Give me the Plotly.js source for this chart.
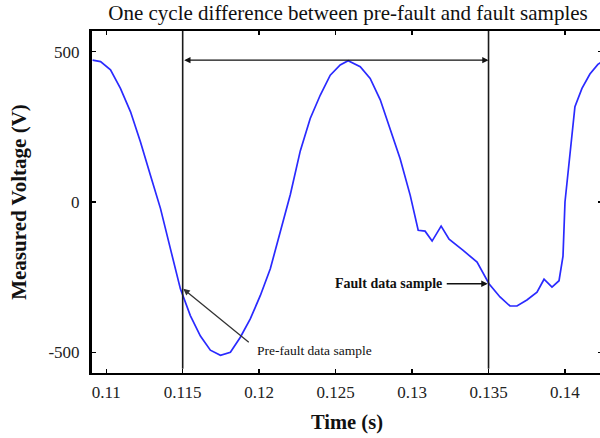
<!DOCTYPE html>
<html>
<head>
<meta charset="utf-8">
<script src="https://cdn.plot.ly/plotly-3.0.1.min.js"></script>
<style>
html,body{margin:0;padding:0;overflow:hidden;background:#fff;}
#chart{width:606px;height:438px;}
</style>
</head>
<body>
<div id="chart"></div>
<script>
// Time (s) and measured voltage (V)
const timeS = [0.10911,0.10963,0.11028,0.11093,0.11159,0.11224,0.11289,0.11355,0.11420,0.11485,
  0.11550,0.11616,0.11681,0.11747,0.11812,0.11877,0.11942,0.12008,0.12073,0.12138,
  0.12204,0.12269,0.12334,0.12400,0.12465,0.12530,0.12582,0.12661,0.12726,0.12792,
  0.12857,0.12922,0.12988,0.13040,0.13085,0.13131,0.13190,0.13242,0.13334,0.13425,
  0.13503,0.13575,0.13640,0.13686,0.13751,0.13817,0.13863,0.13915,0.13961,0.13987,
  0.14000,0.14032,0.14065,0.14111,0.14163,0.14215,0.14245];
const voltage = [472,467,440,378,300,200,89,-22,-156,-289,
  -378,-446,-493,-510,-500,-450,-389,-311,-222,-100,
  25,170,278,356,422,456,470,450,411,340,
  244,144,22,-94,-97,-130,-80,-124,-161,-200,
  -272,-316,-346,-346,-326,-300,-257,-283,-262,-180,
  0,167,317,378,426,458,468];

const xTickVals = [0.11,0.115,0.12,0.125,0.13,0.135,0.14];
const xTickText = ['0.11','0.115','0.12','0.125','0.13','0.135','0.14'];
const yTickVals = [-500,0,500];
const yTickText = ['-500','0','500'];

const preFaultT = 0.115, faultT = 0.135;
const preFaultV = -289, faultV = -272;
const cycleArrowV = 472;
const titleText = 'One cycle difference between pre-fault and fault samples';
const xTitle = 'Time (s)';
const yTitle = 'Measured Voltage (V)';
const preLabel = 'Pre-fault data sample';
const faultLabel = 'Fault data sample';

const serif = 'Liberation Serif, Times New Roman, serif';

const trace = {
  x: timeS, y: voltage, type: 'scatter', mode: 'lines',
  line: {color: '#2a2aff', width: 1.7}, hoverinfo: 'skip', showlegend: false
};

const layout = {
  width: 606, height: 438,
  margin: {l: 92, r: 4, t: 31, b: 65},
  paper_bgcolor: '#fff', plot_bgcolor: '#fff',
  font: {family: serif, color: '#111'},
  title: {text: titleText, font: {family: serif, size: 21, color: '#111'},
          x: 0.502, xref: 'paper', xanchor: 'center', y: 0.972, yref: 'container', yanchor: 'middle'},
  xaxis: {
    range: [0.10907, 0.14242], tickvals: xTickVals, ticktext: xTickText,
    showgrid: false, zeroline: false, showline: true, linecolor: '#000', linewidth: 1.6,
    mirror: 'ticks', ticks: 'inside', ticklen: 4, tickwidth: 1.3, tickcolor: '#000',
    tickfont: {family: serif, size: 17, color: '#222'}, ticklabelstandoff: 3,
    title: {text: '<b>' + xTitle + '</b>', font: {family: serif, size: 20.5, color: '#111'}, standoff: 13}
  },
  yaxis: {
    range: [-569, 569], tickvals: yTickVals, ticktext: yTickText,
    showgrid: false, zeroline: false, showline: true, linecolor: '#000', linewidth: 3,
    mirror: 'ticks', ticks: 'inside', ticklen: 4, tickwidth: 1.3, tickcolor: '#000',
    tickfont: {family: serif, size: 17, color: '#222'}, ticklabelstandoff: 6,
    title: {text: '<b>' + yTitle + '</b>', font: {family: serif, size: 21, color: '#111'}, standoff: 17}
  },
  shapes: [
    {type: 'line', xref: 'x', yref: 'y', x0: preFaultT, x1: preFaultT, y0: -555, y1: 569,
     line: {color: '#1a1a1a', width: 1.6}},
    {type: 'line', xref: 'x', yref: 'y', x0: faultT, x1: faultT, y0: -555, y1: 569,
     line: {color: '#1a1a1a', width: 1.6}}
  ],
  annotations: [
    {x: faultT, y: cycleArrowV, ax: preFaultT, ay: cycleArrowV, xref: 'x', yref: 'y', axref: 'x', ayref: 'y',
     text: '', showarrow: true, arrowhead: 2, arrowside: 'end+start', arrowsize: 0.9, arrowwidth: 1.4, arrowcolor: '#111'},
    {x: preFaultT + 0.00004, y: preFaultV, ax: 0.11942, ay: -471, xref: 'x', yref: 'y', axref: 'x', ayref: 'y',
     text: '', showarrow: true, arrowhead: 2, arrowsize: 1, arrowwidth: 1.3, arrowcolor: '#333'},
    {x: faultT - 0.00005, y: faultV, ax: 0.13217, ay: faultV, xref: 'x', yref: 'y', axref: 'x', ayref: 'y',
     text: '', showarrow: true, arrowhead: 2, arrowsize: 1, arrowwidth: 1.3, arrowcolor: '#111'},
    {x: 0.11975, y: -494, xref: 'x', yref: 'y', text: preLabel, showarrow: false, xanchor: 'left', yanchor: 'middle',
     font: {family: serif, size: 13.5, color: '#111'}},
    {x: 0.13210, y: faultV, xref: 'x', yref: 'y', text: '<b>' + faultLabel + '</b>', showarrow: false, xanchor: 'right', yanchor: 'middle',
     font: {family: serif, size: 14, color: '#111'}}
  ]
};

Plotly.newPlot('chart', [trace], layout, {displayModeBar: false, staticPlot: true});
</script>
</body>
</html>
